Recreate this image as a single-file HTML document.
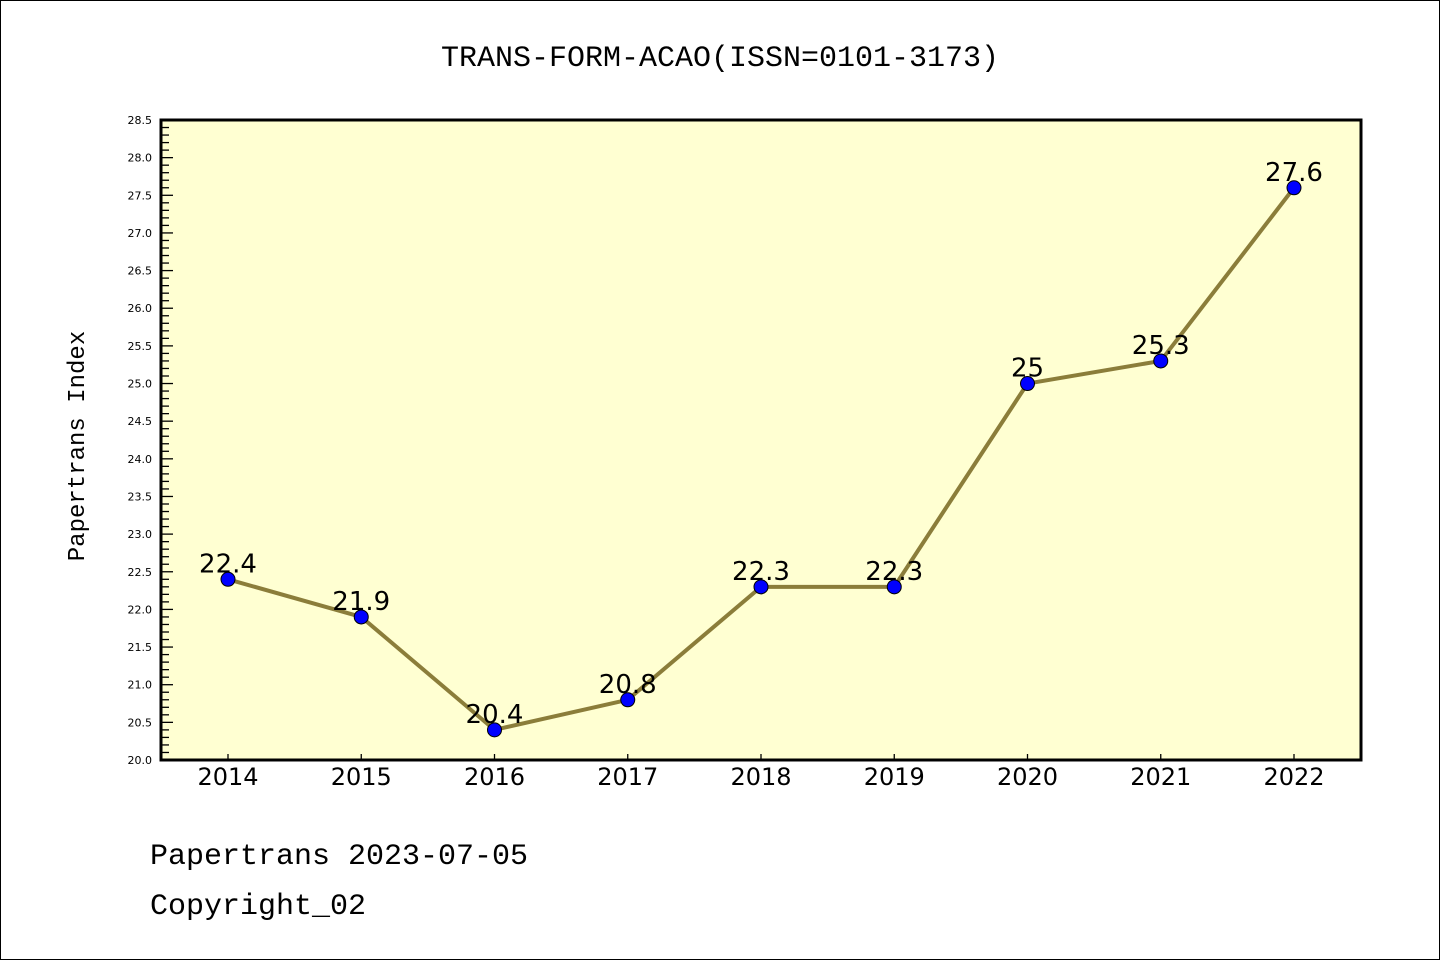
<!DOCTYPE html>
<html><head><meta charset="utf-8"><style>
body{margin:0;background:#fff}
svg{display:block;font-family:"Liberation Mono","DejaVu Sans Mono",monospace}
</style></head><body>
<svg width="1440" height="960">
<rect x="0.5" y="0.5" width="1439" height="959" fill="#fff" stroke="#000"/>
<text x="720" y="66" text-anchor="middle" font-size="30">TRANS-FORM-ACAO(ISSN=0101-3173)</text>
<rect x="161" y="120" width="1200" height="640" fill="#ffffd2"/>
<g id="yaxis"></g>
<g id="xaxis"></g>
<g id="series"></g>
<rect x="161" y="120" width="1200" height="640" fill="none" stroke="#000" stroke-width="3"/>
<text transform="translate(84,446) rotate(-90)" text-anchor="middle" font-size="24">Papertrans Index</text>
<text x="150" y="864" font-size="30">Papertrans 2023-07-05</text>
<text x="150" y="914" font-size="30">Copyright_02</text>
</svg>
<script>
const years=["2014","2015","2016","2017","2018","2019","2020","2021","2022"];
const values=[22.4,21.9,20.4,20.8,22.3,22.3,25.0,25.3,27.6];
const labels=["22.4","21.9","20.4","20.8","22.3","22.3","25","25.3","27.6"];
const yTicks=["20.0","20.5","21.0","21.5","22.0","22.5","23.0","23.5","24.0","24.5","25.0","25.5","26.0","26.5","27.0","27.5","28.0","28.5"];
const NS="http://www.w3.org/2000/svg";
const yMin=20,yMax=28.5,plotTop=120,plotBot=760,plotLeft=161;
const yS=v=>plotBot-(v-yMin)/(yMax-yMin)*(plotBot-plotTop);
const xS=i=>228+i*133.25;
function mk(t,a,p){const e=document.createElementNS(NS,t);for(const k in a)e.setAttribute(k,a[k]);p.appendChild(e);return e;}
const ya=document.getElementById('yaxis');
for(let k=0;k<=85;k++){const v=yMin+k*0.1,major=k%5===0;
 const l=mk('line',{x1:plotLeft,x2:plotLeft+(major?12:8),y1:yS(v),y2:yS(v),stroke:'#000','stroke-width':1.3},ya);
 
 }
yTicks.forEach(t=>{const e=mk('text',{x:152,y:yS(parseFloat(t))+4,'text-anchor':'end','font-size':11,'font-family':'DejaVu Sans, sans-serif'},ya);e.textContent=t;
 
 });
const xa=document.getElementById('xaxis');
years.forEach((yr,i)=>{const l=mk('line',{x1:xS(i),x2:xS(i),y1:plotBot,y2:plotBot-6,stroke:'#000','stroke-width':1.3},xa);
 
 
 const e=mk('text',{x:xS(i),y:785,'text-anchor':'middle','font-size':24,'font-family':'DejaVu Sans, sans-serif'},xa);e.textContent=yr;
 
 });
const s=document.getElementById('series');
const pl=mk('polyline',{points:values.map((v,i)=>xS(i)+','+yS(v)).join(' '),fill:'none',stroke:'#8b7d3a','stroke-width':4},s);


values.forEach((v,i)=>{const c=mk('circle',{cx:xS(i),cy:yS(v),r:7,fill:'#0000ff',stroke:'#000','stroke-width':1},s);
 
 
 const t=mk('text',{x:xS(i),y:yS(v)-7,'text-anchor':'middle','font-size':26,'font-family':'DejaVu Sans, sans-serif'},s);t.textContent=labels[i];
 
 });
</script>
</body></html>
